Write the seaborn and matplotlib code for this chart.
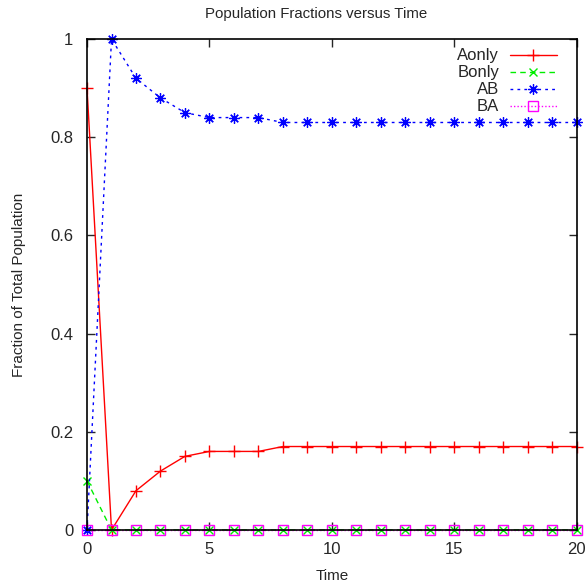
import matplotlib
matplotlib.use("Agg")
import matplotlib.pyplot as plt
import seaborn as sns

# data
time = list(range(21))
aonly = [0.9, 0.0, 0.08, 0.12, 0.15, 0.16, 0.16, 0.16] + [0.17] * 13
bonly = [0.1] + [0.0] * 20
ab = [0.0, 1.0, 0.92, 0.88, 0.85, 0.84, 0.84, 0.84] + [0.83] * 13
ba = [0.0] * 21

series_names = ["Aonly", "Bonly", "AB", "BA"]
series_values = [aonly, bonly, ab, ba]
series_colors = ["#ff0000", "#00ee00", "#0000ff", "#ff00ff"]

sns.set_style("ticks")
plt.rcParams["font.family"] = ["Liberation Sans", "DejaVu Sans"]

styles = {
    "Aonly": dict(linestyle="-", marker="+", markersize=8, markeredgewidth=1),
    "Bonly": dict(linestyle=(0, (4, 3)), marker="x", markersize=6, markeredgewidth=1),
    "AB": dict(linestyle=(0, (2, 3)), marker=(8, 2, 0), markersize=7.5, markeredgewidth=0.9),
    "BA": dict(linestyle=(0, (1, 1.5)), marker="s", markersize=7, markerfacecolor="none",
               markeredgewidth=1),
}

fig = plt.figure(figsize=(5.88, 5.86), dpi=100)
ax = fig.add_axes([0.148, 0.0956, 0.833, 0.8378])

for name, vals, col in zip(series_names, series_values, series_colors):
    sns.lineplot(x=time, y=vals, ax=ax, label=name, color=col, linewidth=1,
                 markeredgecolor=col, clip_on=False, **styles[name])

ax.set_xlim(0, 20)
ax.set_ylim(0, 1)
ax.set_xticks([0, 5, 10, 15, 20])
ax.set_yticks([0, 0.2, 0.4, 0.6, 0.8, 1.0])
ax.set_yticklabels(["0", "0.2", "0.4", "0.6", "0.8", "1"])
ax.tick_params(direction="in", top=True, right=True, length=6, width=1, labelsize=12)
ax.tick_params(axis="x", pad=9)
ax.tick_params(axis="y", pad=10)
for sp in ax.spines.values():
    sp.set_visible(True)
    sp.set_linewidth(1.2)
    sp.set_color("black")

ax.set_title("Population Fractions versus Time", fontsize=10.8, pad=15, x=0.468)
ax.set_xlabel("Time", fontsize=11, labelpad=8)
ax.set_ylabel("Fraction of Total Population", fontsize=11, labelpad=17)

leg = ax.legend(loc="upper right", bbox_to_anchor=(0.959, 0.981), markerfirst=False,
                frameon=False, fontsize=12, handlelength=2.8, labelspacing=0.12,
                handletextpad=0.65, borderaxespad=0, borderpad=0)

fig.savefig("out.png", dpi=100)
plt.close(fig)
